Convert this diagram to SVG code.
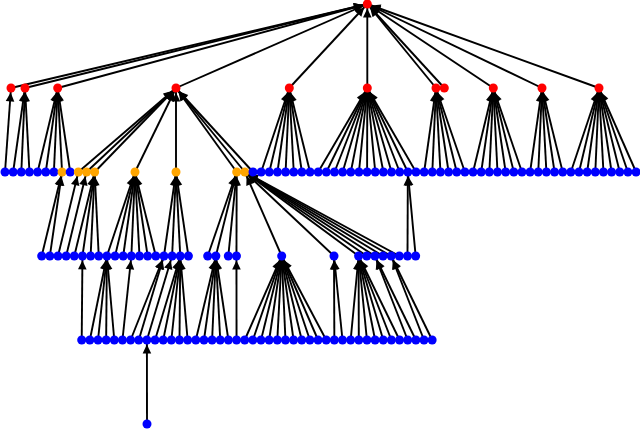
<svg xmlns="http://www.w3.org/2000/svg" width="640" height="429" viewBox="0 0 640 429">
<style>
.e line{stroke:#000;stroke-width:1.9;fill:none;marker-end:url(#ah)}
.r{fill:#ff0000}
.o{fill:#ffa500}
.b{fill:#0000ff}
</style>
<defs>
<marker id="ah" viewBox="-14 -6 20 12" refX="4.4" refY="0" markerWidth="20" markerHeight="12" markerUnits="userSpaceOnUse" orient="auto" overflow="visible"><path d="M0,0 L-9,-4.3 L-9,4.3 Z" fill="#000"/></marker>
</defs>
<rect width="640" height="429" fill="#fff"/>
<g id="edges" class="e">
<line x1="11" y1="88" x2="367.3" y2="4"/>
<line x1="25" y1="88" x2="367.3" y2="4"/>
<line x1="57.7" y1="88" x2="367.3" y2="4"/>
<line x1="176" y1="88" x2="367.3" y2="4"/>
<line x1="289.3" y1="88" x2="367.3" y2="4"/>
<line x1="367.3" y1="88" x2="367.3" y2="4"/>
<line x1="436" y1="88" x2="367.3" y2="4"/>
<line x1="444.3" y1="88" x2="367.3" y2="4"/>
<line x1="493.3" y1="88" x2="367.3" y2="4"/>
<line x1="542" y1="88" x2="367.3" y2="4"/>
<line x1="599" y1="88" x2="367.3" y2="4"/>
<line x1="5" y1="172" x2="11" y2="88"/>
<line x1="13.15" y1="172" x2="25" y2="88"/>
<line x1="21.3" y1="172" x2="25" y2="88"/>
<line x1="29.45" y1="172" x2="25" y2="88"/>
<line x1="37.6" y1="172" x2="57.7" y2="88"/>
<line x1="45.75" y1="172" x2="57.7" y2="88"/>
<line x1="53.9" y1="172" x2="57.7" y2="88"/>
<line x1="62.05" y1="172" x2="57.7" y2="88"/>
<line x1="70.2" y1="172" x2="57.7" y2="88"/>
<line x1="78.35" y1="172" x2="176" y2="88"/>
<line x1="86.5" y1="172" x2="176" y2="88"/>
<line x1="94.65" y1="172" x2="176" y2="88"/>
<line x1="135" y1="172" x2="176" y2="88"/>
<line x1="176" y1="172" x2="176" y2="88"/>
<line x1="236.7" y1="172" x2="176" y2="88"/>
<line x1="244.85" y1="172" x2="176" y2="88"/>
<line x1="253" y1="172" x2="176" y2="88"/>
<line x1="261.15" y1="172" x2="289.3" y2="88"/>
<line x1="269.3" y1="172" x2="289.3" y2="88"/>
<line x1="277.45" y1="172" x2="289.3" y2="88"/>
<line x1="285.6" y1="172" x2="289.3" y2="88"/>
<line x1="293.75" y1="172" x2="289.3" y2="88"/>
<line x1="301.9" y1="172" x2="289.3" y2="88"/>
<line x1="310.05" y1="172" x2="289.3" y2="88"/>
<line x1="318.2" y1="172" x2="367.3" y2="88"/>
<line x1="326.35" y1="172" x2="367.3" y2="88"/>
<line x1="334.5" y1="172" x2="367.3" y2="88"/>
<line x1="342.65" y1="172" x2="367.3" y2="88"/>
<line x1="350.8" y1="172" x2="367.3" y2="88"/>
<line x1="358.95" y1="172" x2="367.3" y2="88"/>
<line x1="367.1" y1="172" x2="367.3" y2="88"/>
<line x1="375.25" y1="172" x2="367.3" y2="88"/>
<line x1="383.4" y1="172" x2="367.3" y2="88"/>
<line x1="391.55" y1="172" x2="367.3" y2="88"/>
<line x1="399.7" y1="172" x2="367.3" y2="88"/>
<line x1="407.85" y1="172" x2="367.3" y2="88"/>
<line x1="416" y1="172" x2="367.3" y2="88"/>
<line x1="424.15" y1="172" x2="436" y2="88"/>
<line x1="432.3" y1="172" x2="436" y2="88"/>
<line x1="440.45" y1="172" x2="436" y2="88"/>
<line x1="448.6" y1="172" x2="436" y2="88"/>
<line x1="456.75" y1="172" x2="436" y2="88"/>
<line x1="464.9" y1="172" x2="436" y2="88"/>
<line x1="473.05" y1="172" x2="493.3" y2="88"/>
<line x1="481.2" y1="172" x2="493.3" y2="88"/>
<line x1="489.35" y1="172" x2="493.3" y2="88"/>
<line x1="497.5" y1="172" x2="493.3" y2="88"/>
<line x1="505.65" y1="172" x2="493.3" y2="88"/>
<line x1="513.8" y1="172" x2="493.3" y2="88"/>
<line x1="521.95" y1="172" x2="493.3" y2="88"/>
<line x1="530.1" y1="172" x2="542" y2="88"/>
<line x1="538.25" y1="172" x2="542" y2="88"/>
<line x1="546.4" y1="172" x2="542" y2="88"/>
<line x1="554.55" y1="172" x2="542" y2="88"/>
<line x1="562.7" y1="172" x2="542" y2="88"/>
<line x1="570.85" y1="172" x2="599" y2="88"/>
<line x1="579" y1="172" x2="599" y2="88"/>
<line x1="587.15" y1="172" x2="599" y2="88"/>
<line x1="595.3" y1="172" x2="599" y2="88"/>
<line x1="603.45" y1="172" x2="599" y2="88"/>
<line x1="611.6" y1="172" x2="599" y2="88"/>
<line x1="619.75" y1="172" x2="599" y2="88"/>
<line x1="627.9" y1="172" x2="599" y2="88"/>
<line x1="636.05" y1="172" x2="599" y2="88"/>
<line x1="41.7" y1="256" x2="62.05" y2="172"/>
<line x1="49.85" y1="256" x2="62.05" y2="172"/>
<line x1="58" y1="256" x2="78.35" y2="172"/>
<line x1="66.15" y1="256" x2="86.5" y2="172"/>
<line x1="74.3" y1="256" x2="94.65" y2="172"/>
<line x1="82.45" y1="256" x2="94.65" y2="172"/>
<line x1="90.6" y1="256" x2="94.65" y2="172"/>
<line x1="98.75" y1="256" x2="94.65" y2="172"/>
<line x1="106.9" y1="256" x2="135" y2="172"/>
<line x1="115.05" y1="256" x2="135" y2="172"/>
<line x1="123.2" y1="256" x2="135" y2="172"/>
<line x1="131.35" y1="256" x2="135" y2="172"/>
<line x1="139.5" y1="256" x2="135" y2="172"/>
<line x1="147.65" y1="256" x2="135" y2="172"/>
<line x1="155.8" y1="256" x2="135" y2="172"/>
<line x1="163.95" y1="256" x2="176" y2="172"/>
<line x1="172.1" y1="256" x2="176" y2="172"/>
<line x1="180.25" y1="256" x2="176" y2="172"/>
<line x1="188.4" y1="256" x2="176" y2="172"/>
<line x1="207.7" y1="256" x2="236.7" y2="172"/>
<line x1="215.85" y1="256" x2="236.7" y2="172"/>
<line x1="228.3" y1="256" x2="236.7" y2="172"/>
<line x1="236.45" y1="256" x2="236.7" y2="172"/>
<line x1="281.7" y1="256" x2="244.85" y2="172"/>
<line x1="334" y1="256" x2="244.85" y2="172"/>
<line x1="358.6" y1="256" x2="244.85" y2="172"/>
<line x1="366.75" y1="256" x2="244.85" y2="172"/>
<line x1="374.9" y1="256" x2="244.85" y2="172"/>
<line x1="383.05" y1="256" x2="244.85" y2="172"/>
<line x1="391.2" y1="256" x2="244.85" y2="172"/>
<line x1="399.35" y1="256" x2="244.85" y2="172"/>
<line x1="407.5" y1="256" x2="407.85" y2="172"/>
<line x1="415.65" y1="256" x2="407.85" y2="172"/>
<line x1="81.7" y1="340" x2="82.45" y2="256"/>
<line x1="89.85" y1="340" x2="106.9" y2="256"/>
<line x1="98" y1="340" x2="106.9" y2="256"/>
<line x1="106.15" y1="340" x2="106.9" y2="256"/>
<line x1="114.3" y1="340" x2="106.9" y2="256"/>
<line x1="122.45" y1="340" x2="131.35" y2="256"/>
<line x1="130.6" y1="340" x2="163.95" y2="256"/>
<line x1="138.75" y1="340" x2="163.95" y2="256"/>
<line x1="146.9" y1="340" x2="172.1" y2="256"/>
<line x1="155.05" y1="340" x2="180.25" y2="256"/>
<line x1="163.2" y1="340" x2="180.25" y2="256"/>
<line x1="171.35" y1="340" x2="180.25" y2="256"/>
<line x1="179.5" y1="340" x2="180.25" y2="256"/>
<line x1="187.65" y1="340" x2="180.25" y2="256"/>
<line x1="195.8" y1="340" x2="215.85" y2="256"/>
<line x1="203.95" y1="340" x2="215.85" y2="256"/>
<line x1="212.1" y1="340" x2="215.85" y2="256"/>
<line x1="220.25" y1="340" x2="215.85" y2="256"/>
<line x1="228.4" y1="340" x2="215.85" y2="256"/>
<line x1="236.55" y1="340" x2="236.45" y2="256"/>
<line x1="244.7" y1="340" x2="281.7" y2="256"/>
<line x1="252.85" y1="340" x2="281.7" y2="256"/>
<line x1="261" y1="340" x2="281.7" y2="256"/>
<line x1="269.15" y1="340" x2="281.7" y2="256"/>
<line x1="277.3" y1="340" x2="281.7" y2="256"/>
<line x1="285.45" y1="340" x2="281.7" y2="256"/>
<line x1="293.6" y1="340" x2="281.7" y2="256"/>
<line x1="301.75" y1="340" x2="281.7" y2="256"/>
<line x1="309.9" y1="340" x2="281.7" y2="256"/>
<line x1="318.05" y1="340" x2="281.7" y2="256"/>
<line x1="326.2" y1="340" x2="281.7" y2="256"/>
<line x1="334.35" y1="340" x2="334" y2="256"/>
<line x1="342.5" y1="340" x2="334" y2="256"/>
<line x1="350.65" y1="340" x2="358.6" y2="256"/>
<line x1="358.8" y1="340" x2="358.6" y2="256"/>
<line x1="366.95" y1="340" x2="358.6" y2="256"/>
<line x1="375.1" y1="340" x2="358.6" y2="256"/>
<line x1="383.25" y1="340" x2="358.6" y2="256"/>
<line x1="391.4" y1="340" x2="358.6" y2="256"/>
<line x1="399.55" y1="340" x2="358.6" y2="256"/>
<line x1="407.7" y1="340" x2="374.9" y2="256"/>
<line x1="415.85" y1="340" x2="374.9" y2="256"/>
<line x1="424" y1="340" x2="391.2" y2="256"/>
<line x1="432.15" y1="340" x2="391.2" y2="256"/>
<line x1="147" y1="424" x2="146.9" y2="340"/>
</g>
<g id="nodes">
<g id="root"><circle cx="367.3" cy="4" r="4.5" class="r"/></g>
<g id="a1"><circle cx="11" cy="88" r="4.5" class="r"/></g>
<g id="a2"><circle cx="25" cy="88" r="4.5" class="r"/></g>
<g id="a3"><circle cx="57.7" cy="88" r="4.5" class="r"/></g>
<g id="a4"><circle cx="176" cy="88" r="4.5" class="r"/></g>
<g id="a5"><circle cx="289.3" cy="88" r="4.5" class="r"/></g>
<g id="a6"><circle cx="367.3" cy="88" r="4.5" class="r"/></g>
<g id="a7"><circle cx="436" cy="88" r="4.5" class="r"/></g>
<g id="a8"><circle cx="444.3" cy="88" r="4.5" class="r"/></g>
<g id="a9"><circle cx="493.3" cy="88" r="4.5" class="r"/></g>
<g id="a10"><circle cx="542" cy="88" r="4.5" class="r"/></g>
<g id="a11"><circle cx="599" cy="88" r="4.5" class="r"/></g>
<g id="b1"><circle cx="5" cy="172" r="4.5" class="b"/></g>
<g id="b2"><circle cx="13.15" cy="172" r="4.5" class="b"/></g>
<g id="b3"><circle cx="21.3" cy="172" r="4.5" class="b"/></g>
<g id="b4"><circle cx="29.45" cy="172" r="4.5" class="b"/></g>
<g id="b5"><circle cx="37.6" cy="172" r="4.5" class="b"/></g>
<g id="b6"><circle cx="45.75" cy="172" r="4.5" class="b"/></g>
<g id="b7"><circle cx="53.9" cy="172" r="4.5" class="b"/></g>
<g id="b8"><circle cx="62.05" cy="172" r="4.5" class="o"/></g>
<g id="b9"><circle cx="70.2" cy="172" r="4.5" class="b"/></g>
<g id="b10"><circle cx="78.35" cy="172" r="4.5" class="o"/></g>
<g id="b11"><circle cx="86.5" cy="172" r="4.5" class="o"/></g>
<g id="b12"><circle cx="94.65" cy="172" r="4.5" class="o"/></g>
<g id="b13"><circle cx="135" cy="172" r="4.5" class="o"/></g>
<g id="b14"><circle cx="176" cy="172" r="4.5" class="o"/></g>
<g id="b15"><circle cx="236.7" cy="172" r="4.5" class="o"/></g>
<g id="b16"><circle cx="244.85" cy="172" r="4.5" class="o"/></g>
<g id="b17"><circle cx="253" cy="172" r="4.5" class="b"/></g>
<g id="b18"><circle cx="261.15" cy="172" r="4.5" class="b"/></g>
<g id="b19"><circle cx="269.3" cy="172" r="4.5" class="b"/></g>
<g id="b20"><circle cx="277.45" cy="172" r="4.5" class="b"/></g>
<g id="b21"><circle cx="285.6" cy="172" r="4.5" class="b"/></g>
<g id="b22"><circle cx="293.75" cy="172" r="4.5" class="b"/></g>
<g id="b23"><circle cx="301.9" cy="172" r="4.5" class="b"/></g>
<g id="b24"><circle cx="310.05" cy="172" r="4.5" class="b"/></g>
<g id="b25"><circle cx="318.2" cy="172" r="4.5" class="b"/></g>
<g id="b26"><circle cx="326.35" cy="172" r="4.5" class="b"/></g>
<g id="b27"><circle cx="334.5" cy="172" r="4.5" class="b"/></g>
<g id="b28"><circle cx="342.65" cy="172" r="4.5" class="b"/></g>
<g id="b29"><circle cx="350.8" cy="172" r="4.5" class="b"/></g>
<g id="b30"><circle cx="358.95" cy="172" r="4.5" class="b"/></g>
<g id="b31"><circle cx="367.1" cy="172" r="4.5" class="b"/></g>
<g id="b32"><circle cx="375.25" cy="172" r="4.5" class="b"/></g>
<g id="b33"><circle cx="383.4" cy="172" r="4.5" class="b"/></g>
<g id="b34"><circle cx="391.55" cy="172" r="4.5" class="b"/></g>
<g id="b35"><circle cx="399.7" cy="172" r="4.5" class="b"/></g>
<g id="b36"><circle cx="407.85" cy="172" r="4.5" class="b"/></g>
<g id="b37"><circle cx="416" cy="172" r="4.5" class="b"/></g>
<g id="b38"><circle cx="424.15" cy="172" r="4.5" class="b"/></g>
<g id="b39"><circle cx="432.3" cy="172" r="4.5" class="b"/></g>
<g id="b40"><circle cx="440.45" cy="172" r="4.5" class="b"/></g>
<g id="b41"><circle cx="448.6" cy="172" r="4.5" class="b"/></g>
<g id="b42"><circle cx="456.75" cy="172" r="4.5" class="b"/></g>
<g id="b43"><circle cx="464.9" cy="172" r="4.5" class="b"/></g>
<g id="b44"><circle cx="473.05" cy="172" r="4.5" class="b"/></g>
<g id="b45"><circle cx="481.2" cy="172" r="4.5" class="b"/></g>
<g id="b46"><circle cx="489.35" cy="172" r="4.5" class="b"/></g>
<g id="b47"><circle cx="497.5" cy="172" r="4.5" class="b"/></g>
<g id="b48"><circle cx="505.65" cy="172" r="4.5" class="b"/></g>
<g id="b49"><circle cx="513.8" cy="172" r="4.5" class="b"/></g>
<g id="b50"><circle cx="521.95" cy="172" r="4.5" class="b"/></g>
<g id="b51"><circle cx="530.1" cy="172" r="4.5" class="b"/></g>
<g id="b52"><circle cx="538.25" cy="172" r="4.5" class="b"/></g>
<g id="b53"><circle cx="546.4" cy="172" r="4.5" class="b"/></g>
<g id="b54"><circle cx="554.55" cy="172" r="4.5" class="b"/></g>
<g id="b55"><circle cx="562.7" cy="172" r="4.5" class="b"/></g>
<g id="b56"><circle cx="570.85" cy="172" r="4.5" class="b"/></g>
<g id="b57"><circle cx="579" cy="172" r="4.5" class="b"/></g>
<g id="b58"><circle cx="587.15" cy="172" r="4.5" class="b"/></g>
<g id="b59"><circle cx="595.3" cy="172" r="4.5" class="b"/></g>
<g id="b60"><circle cx="603.45" cy="172" r="4.5" class="b"/></g>
<g id="b61"><circle cx="611.6" cy="172" r="4.5" class="b"/></g>
<g id="b62"><circle cx="619.75" cy="172" r="4.5" class="b"/></g>
<g id="b63"><circle cx="627.9" cy="172" r="4.5" class="b"/></g>
<g id="b64"><circle cx="636.05" cy="172" r="4.5" class="b"/></g>
<g id="c1"><circle cx="41.7" cy="256" r="4.5" class="b"/></g>
<g id="c2"><circle cx="49.85" cy="256" r="4.5" class="b"/></g>
<g id="c3"><circle cx="58" cy="256" r="4.5" class="b"/></g>
<g id="c4"><circle cx="66.15" cy="256" r="4.5" class="b"/></g>
<g id="c5"><circle cx="74.3" cy="256" r="4.5" class="b"/></g>
<g id="c6"><circle cx="82.45" cy="256" r="4.5" class="b"/></g>
<g id="c7"><circle cx="90.6" cy="256" r="4.5" class="b"/></g>
<g id="c8"><circle cx="98.75" cy="256" r="4.5" class="b"/></g>
<g id="c9"><circle cx="106.9" cy="256" r="4.5" class="b"/></g>
<g id="c10"><circle cx="115.05" cy="256" r="4.5" class="b"/></g>
<g id="c11"><circle cx="123.2" cy="256" r="4.5" class="b"/></g>
<g id="c12"><circle cx="131.35" cy="256" r="4.5" class="b"/></g>
<g id="c13"><circle cx="139.5" cy="256" r="4.5" class="b"/></g>
<g id="c14"><circle cx="147.65" cy="256" r="4.5" class="b"/></g>
<g id="c15"><circle cx="155.8" cy="256" r="4.5" class="b"/></g>
<g id="c16"><circle cx="163.95" cy="256" r="4.5" class="b"/></g>
<g id="c17"><circle cx="172.1" cy="256" r="4.5" class="b"/></g>
<g id="c18"><circle cx="180.25" cy="256" r="4.5" class="b"/></g>
<g id="c19"><circle cx="188.4" cy="256" r="4.5" class="b"/></g>
<g id="c20"><circle cx="207.7" cy="256" r="4.5" class="b"/></g>
<g id="c21"><circle cx="215.85" cy="256" r="4.5" class="b"/></g>
<g id="c22"><circle cx="228.3" cy="256" r="4.5" class="b"/></g>
<g id="c23"><circle cx="236.45" cy="256" r="4.5" class="b"/></g>
<g id="c24"><circle cx="281.7" cy="256" r="4.5" class="b"/></g>
<g id="c25"><circle cx="334" cy="256" r="4.5" class="b"/></g>
<g id="c26"><circle cx="358.6" cy="256" r="4.5" class="b"/></g>
<g id="c27"><circle cx="366.75" cy="256" r="4.5" class="b"/></g>
<g id="c28"><circle cx="374.9" cy="256" r="4.5" class="b"/></g>
<g id="c29"><circle cx="383.05" cy="256" r="4.5" class="b"/></g>
<g id="c30"><circle cx="391.2" cy="256" r="4.5" class="b"/></g>
<g id="c31"><circle cx="399.35" cy="256" r="4.5" class="b"/></g>
<g id="c32"><circle cx="407.5" cy="256" r="4.5" class="b"/></g>
<g id="c33"><circle cx="415.65" cy="256" r="4.5" class="b"/></g>
<g id="d1"><circle cx="81.7" cy="340" r="4.5" class="b"/></g>
<g id="d2"><circle cx="89.85" cy="340" r="4.5" class="b"/></g>
<g id="d3"><circle cx="98" cy="340" r="4.5" class="b"/></g>
<g id="d4"><circle cx="106.15" cy="340" r="4.5" class="b"/></g>
<g id="d5"><circle cx="114.3" cy="340" r="4.5" class="b"/></g>
<g id="d6"><circle cx="122.45" cy="340" r="4.5" class="b"/></g>
<g id="d7"><circle cx="130.6" cy="340" r="4.5" class="b"/></g>
<g id="d8"><circle cx="138.75" cy="340" r="4.5" class="b"/></g>
<g id="d9"><circle cx="146.9" cy="340" r="4.5" class="b"/></g>
<g id="d10"><circle cx="155.05" cy="340" r="4.5" class="b"/></g>
<g id="d11"><circle cx="163.2" cy="340" r="4.5" class="b"/></g>
<g id="d12"><circle cx="171.35" cy="340" r="4.5" class="b"/></g>
<g id="d13"><circle cx="179.5" cy="340" r="4.5" class="b"/></g>
<g id="d14"><circle cx="187.65" cy="340" r="4.5" class="b"/></g>
<g id="d15"><circle cx="195.8" cy="340" r="4.5" class="b"/></g>
<g id="d16"><circle cx="203.95" cy="340" r="4.5" class="b"/></g>
<g id="d17"><circle cx="212.1" cy="340" r="4.5" class="b"/></g>
<g id="d18"><circle cx="220.25" cy="340" r="4.5" class="b"/></g>
<g id="d19"><circle cx="228.4" cy="340" r="4.5" class="b"/></g>
<g id="d20"><circle cx="236.55" cy="340" r="4.5" class="b"/></g>
<g id="d21"><circle cx="244.7" cy="340" r="4.5" class="b"/></g>
<g id="d22"><circle cx="252.85" cy="340" r="4.5" class="b"/></g>
<g id="d23"><circle cx="261" cy="340" r="4.5" class="b"/></g>
<g id="d24"><circle cx="269.15" cy="340" r="4.5" class="b"/></g>
<g id="d25"><circle cx="277.3" cy="340" r="4.5" class="b"/></g>
<g id="d26"><circle cx="285.45" cy="340" r="4.5" class="b"/></g>
<g id="d27"><circle cx="293.6" cy="340" r="4.5" class="b"/></g>
<g id="d28"><circle cx="301.75" cy="340" r="4.5" class="b"/></g>
<g id="d29"><circle cx="309.9" cy="340" r="4.5" class="b"/></g>
<g id="d30"><circle cx="318.05" cy="340" r="4.5" class="b"/></g>
<g id="d31"><circle cx="326.2" cy="340" r="4.5" class="b"/></g>
<g id="d32"><circle cx="334.35" cy="340" r="4.5" class="b"/></g>
<g id="d33"><circle cx="342.5" cy="340" r="4.5" class="b"/></g>
<g id="d34"><circle cx="350.65" cy="340" r="4.5" class="b"/></g>
<g id="d35"><circle cx="358.8" cy="340" r="4.5" class="b"/></g>
<g id="d36"><circle cx="366.95" cy="340" r="4.5" class="b"/></g>
<g id="d37"><circle cx="375.1" cy="340" r="4.5" class="b"/></g>
<g id="d38"><circle cx="383.25" cy="340" r="4.5" class="b"/></g>
<g id="d39"><circle cx="391.4" cy="340" r="4.5" class="b"/></g>
<g id="d40"><circle cx="399.55" cy="340" r="4.5" class="b"/></g>
<g id="d41"><circle cx="407.7" cy="340" r="4.5" class="b"/></g>
<g id="d42"><circle cx="415.85" cy="340" r="4.5" class="b"/></g>
<g id="d43"><circle cx="424" cy="340" r="4.5" class="b"/></g>
<g id="d44"><circle cx="432.15" cy="340" r="4.5" class="b"/></g>
<g id="e1"><circle cx="147" cy="424" r="4.5" class="b"/></g>
</g>
</svg>
